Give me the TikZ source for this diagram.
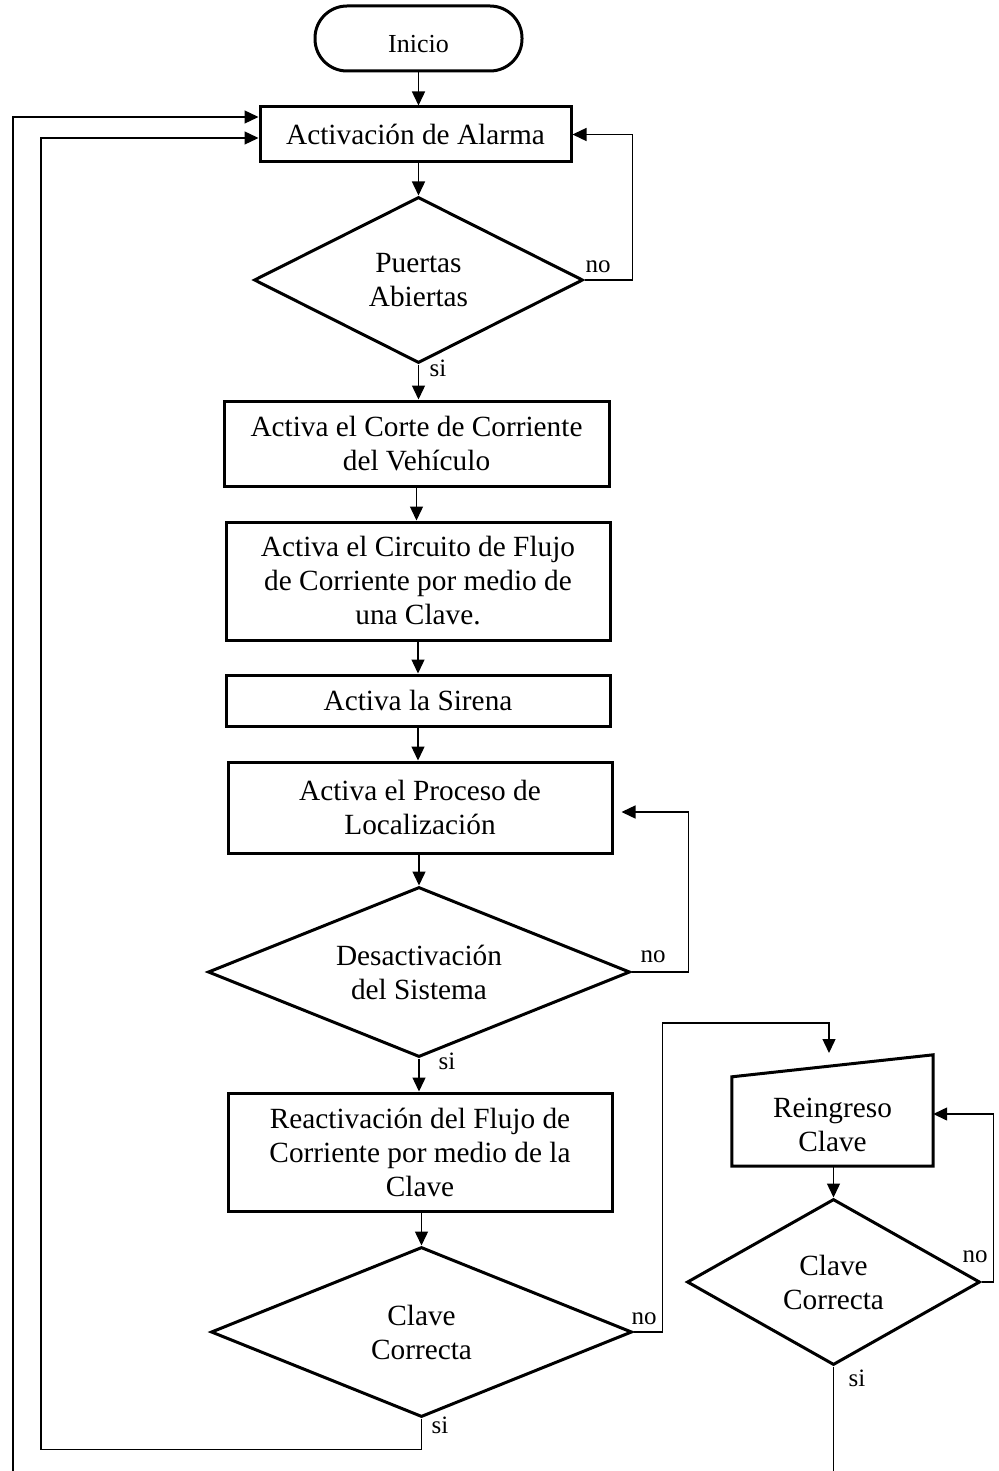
\documentclass[tikz,border=0pt]{standalone}
\usepackage{fontspec}
\setmainfont{Liberation Serif}
\usetikzlibrary{shapes.geometric,arrows.meta}
\begin{document}
\begin{tikzpicture}[x=1pt,y=-1pt,
  shapeline/.style={draw=black,line width=3pt},
  proc/.style={shapeline,rectangle,inner sep=0pt,align=center,font=\fontsize{29.3}{34}\selectfont},
  decision/.style={shapeline,diamond,aspect=2,inner sep=0pt,align=center,font=\fontsize{29.3}{34}\selectfont},
  plain/.style={inner sep=0pt,align=center,font=\fontsize{29.3}{34}\selectfont},
  flow/.style={line width=1.4pt,-{Triangle[length=14pt,width=13pt]}},
  link/.style={line width=1.4pt},
  tag/.style={inner sep=0pt,font=\fontsize{25}{28}\selectfont}]

% page frame
\fill[white] (0,0) rectangle (998,1471);
\useasboundingbox (0,0) rectangle (998,1471);

% main column
\node[proc, rounded corners=32pt, minimum width=207pt, minimum height=65pt,
      text height=29pt, text depth=0pt,
      font=\fontsize{26}{30}\selectfont] (inicio) at (418.5,38.5) {Inicio};
\node[proc, minimum width=311pt, minimum height=55pt] (alarma) at (415.5,134.5) {Activación de Alarma};
\node[decision, minimum width=329pt, minimum height=166pt] (puertas) at (418.5,280) {Puertas\\Abiertas};
\node[proc, minimum width=385pt, minimum height=85pt] (corte) at (416.5,443.5) {Activa el Corte de Corriente\\del Vehículo};
\node[proc, minimum width=384pt, minimum height=118pt] (circuito) at (418,581) {Activa el Circuito de Flujo\\de Corriente por medio de\\una Clave.};
\node[proc, minimum width=384pt, minimum height=51pt] (sirena) at (418,700.5) {Activa la Sirena};
\node[proc, minimum width=384pt, minimum height=91pt] (proceso) at (420,807.5) {Activa el Proceso de\\Localización};
\node[decision, minimum width=422pt, minimum height=170pt] (desact) at (419,972) {Desactivación\\del Sistema};
\node[proc, minimum width=384pt, minimum height=118pt] (reactiv) at (420,1152) {Reactivación del Flujo de\\Corriente por medio de la\\Clave};
\node[decision, minimum width=421pt, minimum height=170pt] (clave) at (421.5,1332) {Clave\\Correcta};

% right column: manual input and second check
\node[inner sep=0pt, minimum width=201pt, minimum height=111pt] (reingreso) at (832.5,1110.5) {};
\draw[shapeline] (reingreso.south west) -- (reingreso.south east) -- (reingreso.north east)
  -- ([yshift=-22pt]reingreso.north west) -- cycle;
\node[plain] (reingresotxt) at (832.5,1124.5) {Reingreso\\Clave};
\node[decision, minimum width=293pt, minimum height=166pt] (clave2) at (833.5,1282) {Clave\\Correcta};

% free ends and bends of the return lines
\coordinate (outerend) at (13,1471);
\coordinate (innerleft) at (41,138);
\coordinate (jump) at (829,1023);
\coordinate (rightend) at (833.5,1471);

% straight flow
\draw[flow] (inicio.south) -- (inicio.south |- alarma.north);
\draw[flow] (puertas.north |- alarma.south) -- (puertas.north);
\draw[flow] (puertas.south) -- (puertas.south |- corte.north);
\draw[flow] (corte.south) -- (corte.south |- circuito.north);
\draw[flow] (circuito.south) -- (circuito.south |- sirena.north);
\draw[flow] (sirena.south) -- (sirena.south |- proceso.north);
\draw[flow] (desact.north |- proceso.south) -- (desact.north);
\draw[flow] (desact.south) -- (desact.south |- reactiv.north);
\draw[flow] (clave.north |- reactiv.south) -- (clave.north);
\draw[flow] (clave2.north |- reingreso.south) -- (clave2.north);

% loops back
\draw[flow] (puertas.east) -- ++(48,0) |- (alarma.east);
\draw[flow] (desact.east) -- ++(57,0) |- ([xshift=8pt,yshift=-4.5pt]proceso.east);
\draw[flow] (clave.east) -- ++(29,0) |- (jump) -- (jump |- 0,1053);
\draw[flow] (clave2.east) -- ++(12,0) |- ([yshift=-3.5pt]reingreso.east);
\draw[flow] (clave.south) -- ++(0,31) -| (innerleft) -- (innerleft -| alarma.west);
\draw[flow] (outerend) |- ([yshift=17.5pt]alarma.west);
\draw[link] (clave2.south) -- (rightend);

% branch labels
\node[tag] (no1) at (598,267) {no};
\node[tag] (si1) at (438,368) {si};
\node[tag] (no2) at (653,957) {no};
\node[tag] (si2) at (447,1061) {si};
\node[tag] (no3) at (644,1319) {no};
\node[tag] (si3) at (440,1425) {si};
\node[tag] (no4) at (975,1257) {no};
\node[tag] (si4) at (857,1378) {si};
\end{tikzpicture}
\end{document}
